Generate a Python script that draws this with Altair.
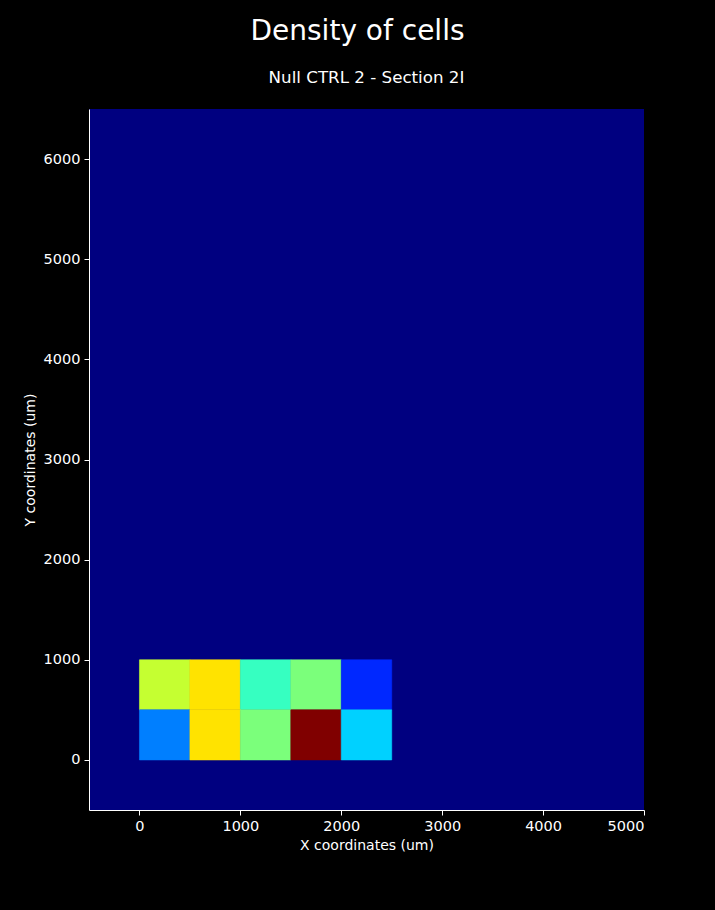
import altair as alt
import pandas as pd

# Bin edges (um) and densities
x_starts = [0, 500, 1000, 1500, 2000, 0, 500, 1000, 1500, 2000]
y_starts = [500, 500, 500, 500, 500, 0, 0, 0, 0, 0]
bin_size = 500
density = [59, 67, 41.5, 50, 16.4, 25, 67, 50, 100, 33]

x_ticks = [0, 1000, 2000, 3000, 4000, 5000]
y_ticks = [0, 1000, 2000, 3000, 4000, 5000, 6000]

df = pd.DataFrame({
    "x0": x_starts,
    "x1": [v + bin_size for v in x_starts],
    "y0": y_starts,
    "y1": [v + bin_size for v in y_starts],
    "density": density,
})

vmax = max(density)
# jet colormap breakpoints
jet_pos = [0, 0.11, 0.125, 0.34, 0.35, 0.375, 0.64, 0.65, 0.66, 0.89, 0.91, 1.0]
jet_col = ["#000080", "#0000ff", "#0000ff", "#00dbff", "#00e6f7", "#15ffe2",
           "#eeff08", "#f7f600", "#ffec00", "#ff1300", "#e80000", "#800000"]

W, H = 555, 701
FONT = "DejaVu Sans"

axis_common = dict(
    domainColor="white", tickColor="white", labelColor="white", titleColor="white",
    labelFont=FONT, titleFont=FONT, labelFontSize=14.5, titleFontSize=14,
    titleFontWeight="normal", grid=False, tickSize=5, labelPadding=4, format="d",
)

color_scale = alt.Scale(domain=[p * vmax for p in jet_pos], range=jet_col, interpolate="rgb")

heat = alt.Chart(df).mark_rect(strokeWidth=0.6).encode(
    x=alt.X("x0:Q", scale=alt.Scale(domain=[-500, 5000], nice=False, zero=False),
            axis=alt.Axis(title="X coordinates (um)", values=x_ticks, titlePadding=6, **axis_common)),
    x2="x1:Q",
    y=alt.Y("y0:Q", scale=alt.Scale(domain=[-500, 6500], nice=False, zero=False),
            axis=alt.Axis(title="Y coordinates (um)", values=y_ticks, titlePadding=6, **axis_common)),
    y2="y1:Q",
    color=alt.Color("density:Q", legend=None, scale=color_scale),
    stroke=alt.Color("density:Q", legend=None, scale=color_scale),
)

subtitle = alt.Chart(pd.DataFrame({"t": ["Null CTRL 2 - Section 2I"]})).mark_text(
    font=FONT, fontSize=16.7, color="white", baseline="middle", align="center"
).encode(text="t:N", x=alt.value(W / 2), y=alt.value(-31))

chart = alt.layer(heat, subtitle).properties(
    width=W, height=H,
    title=alt.TitleParams("Density of cells", font=FONT, fontSize=28, fontWeight="normal",
                          color="white", anchor="middle", frame="group", offset=24, dx=-9),
    background="black",
    padding={"left": 89, "top": 109, "right": 71, "bottom": 100},
    autosize=alt.AutoSizeParams(type="none"),
).configure_view(fill="#000080", stroke=None)

chart.save("out.html", embed_options={"renderer": "svg", "actions": False})
